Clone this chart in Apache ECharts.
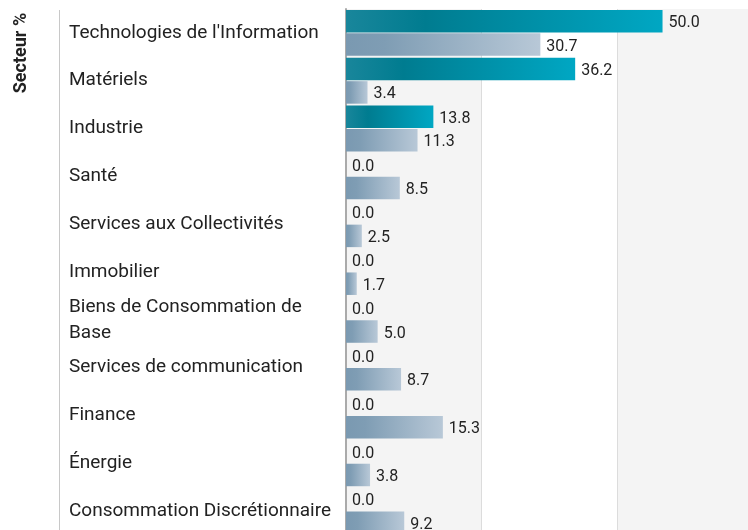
<!DOCTYPE html>
<html>
<head>
<meta charset="utf-8">
<script src="https://cdn.jsdelivr.net/npm/echarts@6/dist/echarts.min.js"></script>
<style>
  html, body { margin: 0; padding: 0; background: #fff; }
  #main { width: 748px; height: 530px; }
</style>
</head>
<body>
<div id="main"></div>
<script>
var categories = [
  "Technologies de l'Information",
  "Matériels",
  "Industrie",
  "Santé",
  "Services aux Collectivités",
  "Immobilier",
  "Biens de Consommation de Base",
  "Services de communication",
  "Finance",
  "Énergie",
  "Consommation Discrétionnaire"
];
var fundValues = [50.0, 36.2, 13.8, 0.0, 0.0, 0.0, 0.0, 0.0, 0.0, 0.0, 0.0];
var benchValues = [30.7, 3.4, 11.3, 8.5, 2.5, 1.7, 5.0, 8.7, 15.3, 3.8, 9.2];

var chartDom = document.getElementById("main");
var myChart = echarts.init(chartDom);

// dégradés des barres
var tealGrad = new echarts.graphic.LinearGradient(0, 0, 1, 0, [
  { offset: 0, color: "#19869b" },
  { offset: 0.25, color: "#007c90" },
  { offset: 1, color: "#00a7c3" }
]);
var greyGrad = new echarts.graphic.LinearGradient(0, 0, 1, 0, [
  { offset: 0, color: "#7a99b1" },
  { offset: 0.2, color: "#7f9db4" },
  { offset: 1, color: "#b8c8d7" }
]);

var valueLabel = {
  show: true,
  position: "right",
  distance: 6,
  offset: [0, 2],
  fontFamily: "Roboto",
  fontSize: 16,
  color: "#222",
  formatter: function (p) { return p.value.toFixed(1); }
};

var option = {
  animation: false,
  grid: { left: 346, right: 0, top: 9, height: 526, outerBoundsMode: "none" },
  graphic: [
    {
      type: "line",
      shape: { x1: 59.5, y1: 10, x2: 59.5, y2: 530 },
      style: { stroke: "#c8c8c8", lineWidth: 1 }
    },
    {
      type: "text",
      x: 21,
      y: 53,
      rotation: Math.PI / 2,
      style: {
        text: "Secteur %",
        fontFamily: "Roboto",
        fontWeight: "bold",
        fontSize: 18,
        fill: "#222",
        align: "center",
        verticalAlign: "middle"
      }
    }
  ],
  xAxis: {
    type: "value",
    min: 0,
    max: 63.5,
    interval: 21.4,
    axisLabel: { show: false },
    axisLine: { show: false },
    axisTick: { show: false },
    splitLine: { show: true, lineStyle: { color: "#dcdcdc", width: 1 } },
    splitArea: { show: true, areaStyle: { color: ["#f4f4f4", "#ffffff"] } }
  },
  yAxis: {
    type: "category",
    inverse: true,
    data: categories,
    axisTick: { show: false },
    axisLine: { show: true, lineStyle: { color: "#aaaaaa", width: 2 } },
    axisLabel: {
      interval: 0,
      showMinLabel: true,
      showMaxLabel: true,
      margin: 277,
      align: "left",
      fontFamily: "Roboto",
      fontSize: 19,
      lineHeight: 26,
      color: "#222",
      padding: [7, 0, 0, 0],
      // retour à la ligne comme dans l'original
      formatter: function (v) { return v.replace(/ (Base)$/, "\n$1"); }
    }
  },
  series: [
    {
      name: "Fonds",
      type: "bar",
      data: fundValues,
      barGap: "4%",
      barCategoryGap: "4%",
      itemStyle: { color: tealGrad },
      label: valueLabel
    },
    {
      name: "Indice",
      type: "bar",
      data: benchValues,
      itemStyle: { color: greyGrad },
      label: valueLabel
    }
  ]
};

option && myChart.setOption(option);
</script>
</body>
</html>
